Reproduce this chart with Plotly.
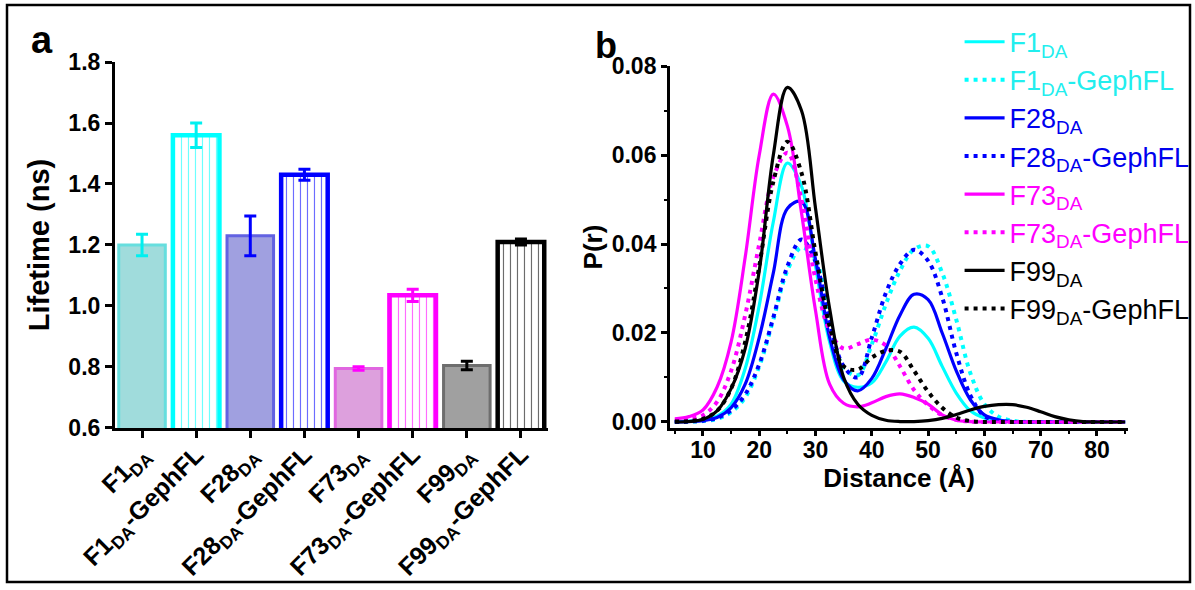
import plotly.graph_objects as go

# ---------------- Panel a data ----------------
bar_labels = ["F1<sub>DA</sub>", "F1<sub>DA</sub>-GephFL", "F28<sub>DA</sub>", "F28<sub>DA</sub>-GephFL",
              "F73<sub>DA</sub>", "F73<sub>DA</sub>-GephFL", "F99<sub>DA</sub>", "F99<sub>DA</sub>-GephFL"]
lifetime = [1.20, 1.56, 1.23, 1.43, 0.795, 1.035, 0.805, 1.21]
lifetime_err = [0.035, 0.04, 0.065, 0.018, 0.006, 0.02, 0.014, 0.01]
bar_fill = ["#a0dcdc", "#ffffff", "#a0a0e0", "#ffffff", "#dda0dd", "#ffffff", "#a0a0a0", "#ffffff"]
bar_edge = ["#66dede", "#00ffff", "#6262e2", "#0000ff", "#e066e0", "#ff00ff", "#6e6e6e", "#000000"]
bar_err_color = ["#00f0f0", "#00f0f0", "#0000ff", "#0000ff", "#ff00ff", "#ff00ff", "#000000", "#000000"]
bar_pattern = ["", "|", "", "|", "", "|", "", "|"]

# ---------------- Panel b data ----------------
distance = [5, 7.5, 10, 12.5, 15, 17.5, 20, 22.5, 25, 27.5, 30, 32.5, 35, 37.5, 40, 42.5, 45,
            47.5, 50, 52.5, 55, 57.5, 60, 62.5, 65, 67.5, 70, 72.5, 75, 77.5, 80, 82.5, 85]

p_F1 = [0.0001, 0.0002, 0.0004, 0.0013, 0.0040, 0.0120, 0.0262, 0.0450, 0.0582, 0.0530, 0.0350,
        0.0180, 0.0092, 0.0078, 0.0088, 0.0135, 0.0193, 0.0213, 0.0188, 0.0125, 0.0065, 0.0025,
        0.0009, 0.0003, 0.0001, 0, 0, 0, 0, 0, 0, 0, 0]
p_F1_G = [0.0, 0.0001, 0.0002, 0.0007, 0.0022, 0.0055, 0.0125, 0.0230, 0.0340, 0.0392, 0.0365,
          0.0225, 0.0122, 0.0105, 0.0175, 0.0265, 0.0340, 0.0388, 0.0395, 0.0335, 0.0230, 0.0110,
          0.0040, 0.0012, 0.0003, 0, 0, 0, 0, 0, 0, 0, 0]
p_F28 = [0.0, 0.0001, 0.0003, 0.0010, 0.0032, 0.0085, 0.0190, 0.0335, 0.0480, 0.0495, 0.0365,
         0.0190, 0.0095, 0.0070, 0.0098, 0.0165, 0.0240, 0.0287, 0.0275, 0.0200, 0.0115, 0.0050,
         0.0016, 0.0005, 0.0001, 0, 0, 0, 0, 0, 0, 0, 0]
p_F28_G = [0.0, 0.0001, 0.0003, 0.0009, 0.0026, 0.0062, 0.0130, 0.0235, 0.0350, 0.0410, 0.0360,
           0.0225, 0.0125, 0.0100, 0.0190, 0.0290, 0.0355, 0.0387, 0.0362, 0.0280, 0.0155, 0.0060,
           0.0013, 0.0002, 0.0, 0, 0, 0, 0, 0, 0, 0, 0]
p_F73 = [0.0007, 0.0012, 0.0027, 0.0078, 0.0180, 0.0370, 0.0600, 0.0737, 0.0665, 0.0470, 0.0250,
         0.0085, 0.0042, 0.0034, 0.0043, 0.0057, 0.0063, 0.0055, 0.0040, 0.0016, 0.0004, 0.0001,
         0, 0, 0, 0, 0, 0, 0, 0, 0, 0, 0]
p_F73_G = [0.0003, 0.0006, 0.0015, 0.0045, 0.0115, 0.0240, 0.0400, 0.0550, 0.0605, 0.0500, 0.0320,
           0.0205, 0.0165, 0.0175, 0.0185, 0.0172, 0.0125, 0.0072, 0.0038, 0.0015, 0.0005, 0.0001,
           0, 0, 0, 0, 0, 0, 0, 0, 0, 0, 0]
p_F99 = [0.0, 0.0001, 0.0006, 0.0025, 0.0075, 0.0165, 0.0340, 0.0600, 0.0752, 0.0700, 0.0480,
         0.0255, 0.0100, 0.0040, 0.0015, 0.0004, 0.0001, 0.0001, 0.0003, 0.0008, 0.0017, 0.0027,
         0.0035, 0.0039, 0.0039, 0.0033, 0.0023, 0.0012, 0.0005, 0.0001, 0, 0, 0]
p_F99_G = [0.0001, 0.0002, 0.0007, 0.0025, 0.0075, 0.0180, 0.0350, 0.0540, 0.0630, 0.0560, 0.0380,
           0.0215, 0.0125, 0.0118, 0.0145, 0.0160, 0.0158, 0.0115, 0.0068, 0.0032, 0.0010, 0.0002,
           0, 0, 0, 0, 0, 0, 0, 0, 0, 0, 0]

series_names = ["F1<sub>DA</sub>", "F1<sub>DA</sub>-GephFL", "F28<sub>DA</sub>", "F28<sub>DA</sub>-GephFL",
                "F73<sub>DA</sub>", "F73<sub>DA</sub>-GephFL", "F99<sub>DA</sub>", "F99<sub>DA</sub>-GephFL"]
series_values = [p_F1, p_F1_G, p_F28, p_F28_G, p_F73, p_F73_G, p_F99, p_F99_G]
series_colors = ["#00ffff", "#00ffff", "#0000ff", "#0000ff", "#ff00ff", "#ff00ff", "#000000", "#000000"]
legend_text_colors = ["#22eeee", "#22eeee", "#0000ee", "#0000ee", "#ff00ff", "#ff00ff", "#000000", "#000000"]
series_dotted = [False, True, False, True, False, True, False, True]

FONT = "Arial, Liberation Sans, sans-serif"

fig = go.Figure()

for i in range(len(bar_labels)):
    fig.add_trace(go.Bar(
        x=[bar_labels[i]], y=[lifetime[i]],
        marker=dict(color=bar_fill[i],
                    line=dict(color=bar_edge[i], width=4.5 if bar_pattern[i] else 3),
                    pattern=dict(shape=bar_pattern[i], fgcolor=bar_edge[i], bgcolor="#ffffff",
                                 size=7, solidity=0.16, fgopacity=0.6)),
        error_y=dict(type="data", array=[lifetime_err[i]], color=bar_err_color[i],
                     thickness=3, width=6),
        xaxis="x", yaxis="y", showlegend=False, width=0.86,
    ))

for i in range(len(series_names)):
    fig.add_trace(go.Scatter(
        x=distance, y=series_values[i], mode="lines",
        name='<span style="color:%s">%s</span>' % (legend_text_colors[i], series_names[i]),
        line=dict(color=series_colors[i], width=4 if series_dotted[i] else 3.2,
                  dash="4px,5px" if series_dotted[i] else "solid",
                  shape="spline", smoothing=1.0),
        xaxis="x2", yaxis="y2",
    ))

axis_common = dict(showline=True, linecolor="black", linewidth=3, ticks="outside",
                   tickcolor="black", tickwidth=3, showgrid=False, zeroline=False,
                   automargin=False)

fig.update_layout(
    width=1195, height=590,
    margin=dict(l=0, r=0, t=0, b=0),
    paper_bgcolor="white", plot_bgcolor="white",
    font=dict(family=FONT, color="black"),
    barmode="overlay",
    xaxis=dict(domain=[0.0962, 0.4586], range=[-0.5, 7.5], type="category", ticklen=7,
               tickangle=-45, tickfont=dict(size=25, weight="bold", family=FONT),
               ticklabelstandoff=-8, **axis_common),
    yaxis=dict(domain=[0.2746, 0.8949], range=[0.6, 1.8], dtick=0.2, tick0=0.6, tickformat=".1f",
               ticklen=7, tickfont=dict(size=23, weight="bold", family=FONT),
               title=dict(text="Lifetime (ns)", font=dict(size=29, weight="bold", family=FONT), standoff=11),
               **axis_common),
    xaxis2=dict(domain=[0.5607, 0.9439], range=[4.15, 85.5], dtick=10, tick0=0, ticklen=5,
                tickfont=dict(size=23, weight="bold", family=FONT), ticklabelstandoff=-6,
                minor=dict(dtick=5, ticklen=3, tickwidth=2, tickcolor="black", ticks="outside"),
                title=dict(text="Distance (Å)", font=dict(size=26, weight="bold", family=FONT), standoff=0),
                anchor="y2", **axis_common),
    yaxis2=dict(domain=[0.2746, 0.8881], range=[-0.00135, 0.08], dtick=0.02, tick0=0, tickformat=".2f",
                ticklen=6, tickfont=dict(size=23, weight="bold", family=FONT),
                minor=dict(dtick=0.01, ticklen=3, tickwidth=2, tickcolor="black", ticks="outside"),
                title=dict(text="P(r)", font=dict(size=26, weight="bold", family=FONT), standoff=2),
                anchor="x2", **axis_common),
    legend=dict(x=0.803, y=0.97, xanchor="left", yanchor="top", bgcolor="rgba(0,0,0,0)",
                font=dict(size=27, family=FONT), itemwidth=40, tracegroupgap=0),
    annotations=[
        dict(text="<b>a</b>", x=42 / 1195, y=1 - 40 / 590, xref="paper", yref="paper",
             showarrow=False, font=dict(size=38, family=FONT), xanchor="center", yanchor="middle"),
        dict(text="<b>b</b>", x=606 / 1195, y=1 - 45 / 590, xref="paper", yref="paper",
             showarrow=False, font=dict(size=36, family=FONT), xanchor="center", yanchor="middle"),
    ],
    shapes=[dict(type="rect", xref="paper", yref="paper", x0=7 / 1195, x1=1190 / 1195,
                 y0=1 - 582 / 590, y1=1 - 5 / 590, line=dict(color="black", width=2.5))],
)

fig.write_html("out.html")
